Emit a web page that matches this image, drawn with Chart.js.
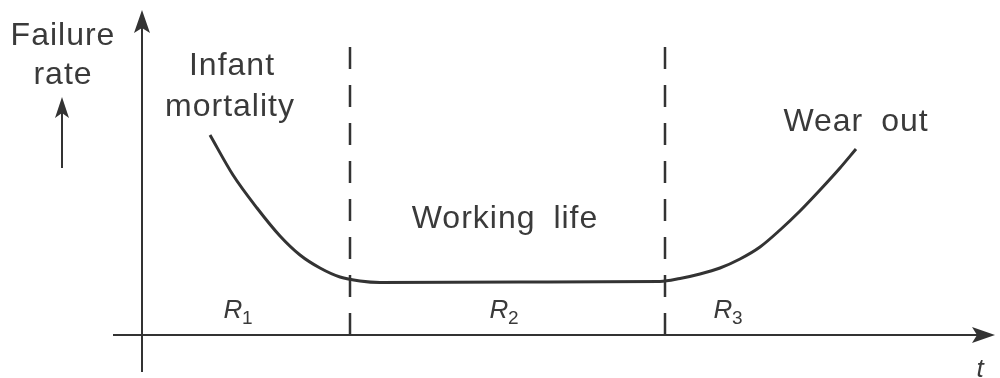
<!DOCTYPE html>
<html>
<head>
<meta charset="utf-8">
<script src="https://cdn.jsdelivr.net/npm/chart.js@4.4.1/dist/chart.umd.min.js"></script>
<style>
  html, body { margin: 0; padding: 0; background: #fff; }
</style>
</head>
<body>
<canvas id="bathtub" width="1000" height="378"></canvas>
<script>
// bathtub curve: time t vs failure rate (arbitrary units)
const tiempo = [3.4, 4.55, 5.75, 6.9, 7.9, 8.9, 9.9, 10.9, 11.9, 18.9, 25.9, 26.9, 27.9, 28.9, 29.9, 30.9, 31.9, 32.9, 33.9, 34.9, 35.7]
const tasaFallos = [10.0, 8.0, 6.35, 4.95, 4.0, 3.35, 2.9, 2.7, 2.625, 2.65, 2.675, 2.825, 3.05, 3.35, 3.8, 4.4, 5.25, 6.2, 7.25, 8.35, 9.3]

// limits between regions R1 | R2 | R3
const limitesRegiones = [10.4, 26.15]
const alturaLimite = 14.65

const regiones = ['R1', 'R2', 'R3']
const centroRegiones = [4.95, 18.25, 29.45]

const etiquetas = ['Failure', 'rate', 'Infant', 'mortality', 'Wear out', 'Working life']
const etiquetasX = [-3.95, -3.95, 4.5, 4.4, 35.7, 18.15]
const etiquetasY = [14.5, 12.55, 13.0, 10.95, 10.2, 5.35]

const tinta = '#333'
const fuente = '"Liberation Sans", Arial, sans-serif'

const puntosCurva = tiempo.map((t, i) => ({ x: t, y: tasaFallos[i] }))

function lineaDatos(puntos, extra) {
    return Object.assign({
        data: puntos,
        borderColor: tinta,
        borderWidth: 2,
        pointRadius: 0,
        fill: false,
        tension: 0
    }, extra)
}

const datasets = [
    // axes
    lineaDatos([{ x: -1.45, y: 0 }, { x: 42.3, y: 0 }]),
    lineaDatos([{ x: 0, y: -1.85 }, { x: 0, y: 15.9 }]),
    // little arrow under "Failure rate"
    lineaDatos([{ x: -4, y: 8.35 }, { x: -4, y: 11.5 }]),
    // curve
    lineaDatos(puntosCurva, { borderWidth: 3, cubicInterpolationMode: 'monotone' })
]

limitesRegiones.forEach(l => {
    datasets.push(lineaDatos([{ x: l, y: 0 }, { x: l, y: alturaLimite }], { borderDash: [22, 16], borderWidth: 2.5 }))
})

function punta(ctx, x, y, dir, largo, medio) {
    // dir: 'up' or 'right'
    ctx.beginPath()
    if (dir === 'up') {
        ctx.moveTo(x, y)
        ctx.lineTo(x - medio, y + largo)
        ctx.lineTo(x, y + largo - 5)
        ctx.lineTo(x + medio, y + largo)
    } else {
        ctx.moveTo(x, y)
        ctx.lineTo(x - largo, y - medio)
        ctx.lineTo(x - largo + 5, y)
        ctx.lineTo(x - largo, y + medio)
    }
    ctx.closePath()
    ctx.fill()
}

const extras = {
    id: 'extras',
    afterDatasetsDraw(chart) {
        const ctx = chart.ctx
        const px = v => chart.scales.x.getPixelForValue(v)
        const py = v => chart.scales.y.getPixelForValue(v)
        ctx.save()
        ctx.fillStyle = tinta

        punta(ctx, px(0), py(16.25), 'up', 23, 8)
        punta(ctx, px(42.65), py(0), 'right', 23, 8)
        punta(ctx, px(-4), py(11.9), 'up', 21, 7)

        ctx.fillStyle = '#3a3a3a'
        ctx.textAlign = 'center'
        ctx.textBaseline = 'alphabetic'
        ctx.font = '32px ' + fuente
        ctx.letterSpacing = '1px'
        ctx.wordSpacing = '8px'
        etiquetas.forEach((txt, i) => {
            ctx.fillText(txt, px(etiquetasX[i]), py(etiquetasY[i]))
        })
        ctx.letterSpacing = '0px'
        ctx.wordSpacing = '0px'

        // R1 R2 R3 with subscripts
        regiones.forEach((r, i) => {
            const x = px(centroRegiones[i]) - 8
            const y = py(0.85)
            ctx.font = 'italic 26px ' + fuente
            ctx.textAlign = 'center'
            ctx.fillText(r[0], x, y)
            ctx.font = '19px ' + fuente
            ctx.textAlign = 'left'
            ctx.fillText(r.slice(1), x + 9, y + 6)
        })

        ctx.font = 'italic 26px ' + fuente
        ctx.textAlign = 'center'
        ctx.fillText('t', px(41.9), py(-2.1))
        ctx.restore()
    }
}

new Chart(document.getElementById('bathtub'), {
    type: 'line',
    data: { datasets: datasets },
    options: {
        responsive: false,
        animation: false,
        devicePixelRatio: 1,
        layout: { padding: 0 },
        plugins: { legend: { display: false }, tooltip: { enabled: false } },
        scales: {
            x: { type: 'linear', min: -7.1, max: 42.9, display: false },
            y: { type: 'linear', min: -2.15, max: 16.75, display: false }
        }
    },
    plugins: [extras]
})
</script>
</body>
</html>
